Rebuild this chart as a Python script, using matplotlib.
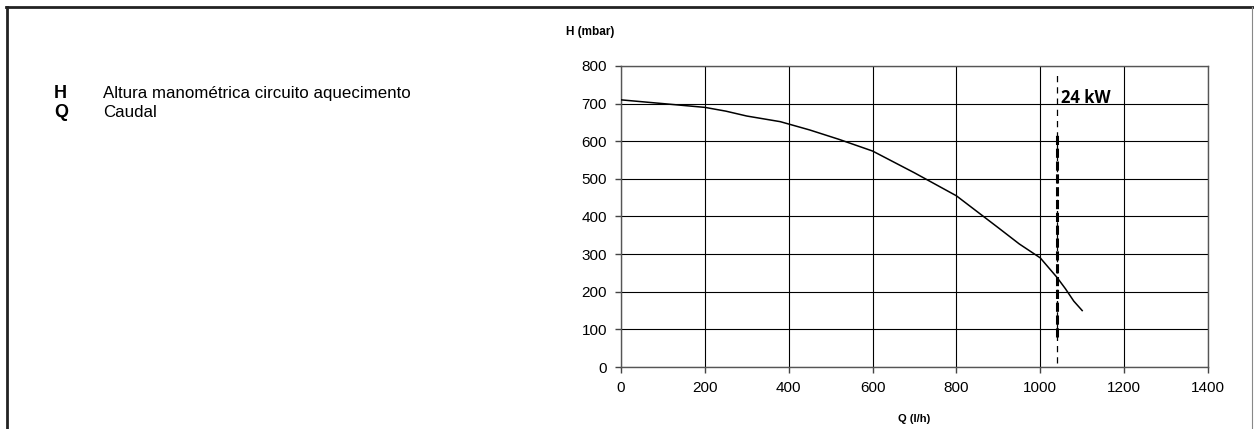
import numpy as np
import matplotlib.pyplot as plt
from matplotlib.lines import Line2D

# pump curve
Q_vals = [0, 100, 200, 250, 300, 380, 450, 520, 600, 700, 800, 900, 950, 1000, 1040, 1060, 1080, 1100]
H_vals = [710, 700, 690, 680, 667, 652, 630, 605, 574, 516, 455, 370, 327, 290, 238, 208, 175, 150]
x_ticks = [0, 200, 400, 600, 800, 1000, 1200, 1400]
y_ticks = [0, 100, 200, 300, 400, 500, 600, 700, 800]
q_24kw = 1040
label_24kw = '24 kW'

plt.rcParams['font.family'] = ['Liberation Sans', 'DejaVu Sans']

fig = plt.figure(figsize=(12.54, 4.29), dpi=100)

# outer frame of the page (left + top dark, right thin grey)
fig.lines.append(Line2D([0.0055, 0.0055], [0.0, 0.984], transform=fig.transFigure, color='#222222', lw=2.0))
fig.lines.append(Line2D([0.0045, 0.9995], [0.984, 0.984], transform=fig.transFigure, color='#222222', lw=2.0))
fig.lines.append(Line2D([0.9985, 0.9985], [0.0, 0.984], transform=fig.transFigure, color='#888888', lw=0.8))

# legend text at the left
fig.text(0.043, 0.783, 'H', fontsize=13, fontweight='bold', ha='left', va='center')
fig.text(0.082, 0.783, 'Altura manométrica circuito aquecimento', fontsize=12.2, ha='left', va='center')
fig.text(0.043, 0.738, 'Q', fontsize=13, fontweight='bold', ha='left', va='center')
fig.text(0.082, 0.738, 'Caudal', fontsize=12.2, ha='left', va='center')

ax = fig.add_axes([0.4952, 0.1445, 0.4681, 0.7017])
ax.plot(Q_vals, H_vals, color='black', lw=1.1, zorder=5)

# rated flow marker
ax.plot([q_24kw, q_24kw], [10, 785], color='black', lw=0.9, ls=(0, (5, 4)), zorder=4)
ax.plot([q_24kw, q_24kw], [80, 620], color='black', lw=2.2, ls=(0, (3, 1.2)), zorder=4)
ax.text(q_24kw + 10, 715, label_24kw, fontsize=12, fontweight='bold',
        family=['Open Sans', 'DejaVu Sans'], ha='left', va='center')

ax.set_xlim(0, 1400)
ax.set_ylim(0, 800)
ax.set_xticks(x_ticks)
ax.set_yticks(y_ticks)
ax.grid(True, color='black', lw=0.8)
ax.set_axisbelow(True)
for s in ax.spines.values():
    s.set_color('#555555')
    s.set_linewidth(1.0)
ax.tick_params(direction='out', length=4, width=1, color='#444444', labelsize=11, pad=6)

ax.set_xlabel('Q (l/h)', fontsize=8, fontweight='bold', labelpad=14)
fig.text(0.451, 0.926, 'H (mbar)', fontsize=8.5, fontweight='bold', ha='left', va='center')

fig.savefig('out.png', dpi=100)
